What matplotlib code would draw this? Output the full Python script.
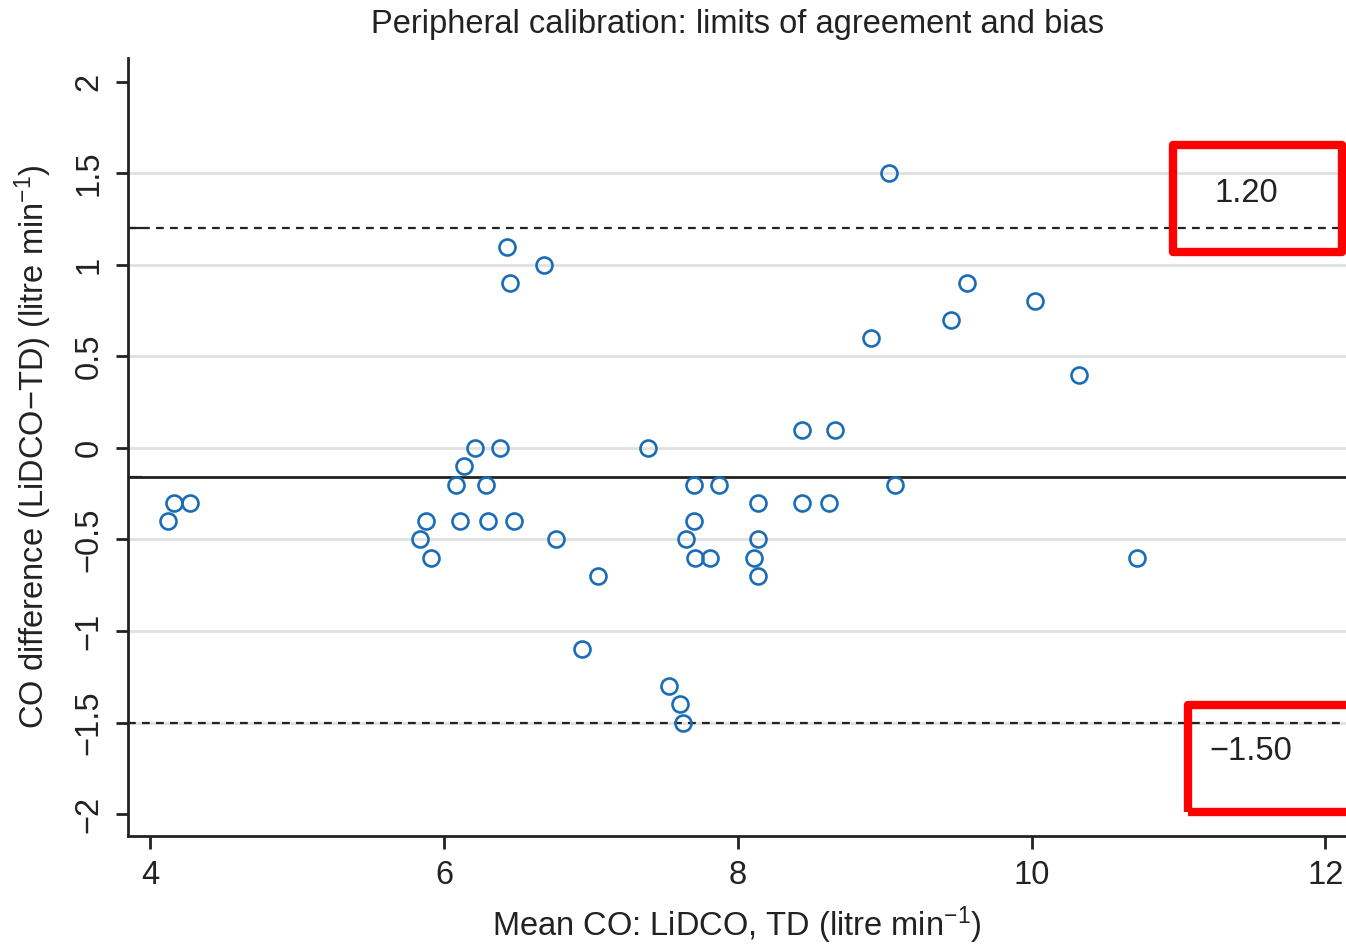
import matplotlib
matplotlib.use("Agg")
import matplotlib.pyplot as plt
from matplotlib.patches import Rectangle

plt.rcParams['font.family'] = ['Liberation Sans', 'DejaVu Sans']
plt.rcParams['mathtext.fontset'] = 'custom'
plt.rcParams['mathtext.rm'] = 'Liberation Sans'
plt.rcParams['mathtext.it'] = 'Liberation Sans'

mean_co = [4.12, 4.16, 4.27, 5.84, 5.88, 5.91, 6.08, 6.11, 6.14, 6.21, 6.29, 6.30,
           6.38, 6.48, 6.43, 6.45, 6.68, 6.76, 6.94, 7.05, 7.39, 7.53, 7.61, 7.63,
           7.65, 7.70, 7.70, 7.71, 7.81, 7.87, 8.11, 8.14, 8.14, 8.14, 8.44, 8.44,
           8.62, 8.66, 8.91, 9.03, 9.07, 9.45, 9.56, 10.02, 10.32, 10.72]
diff_co = [-0.4, -0.3, -0.3, -0.5, -0.4, -0.6, -0.2, -0.4, -0.1, 0.0, -0.2, -0.4,
           0.0, -0.4, 1.1, 0.9, 1.0, -0.5, -1.1, -0.7, 0.0, -1.3, -1.4, -1.5,
           -0.5, -0.4, -0.2, -0.6, -0.6, -0.2, -0.6, -0.3, -0.5, -0.7, 0.1, -0.3,
           -0.3, 0.1, 0.6, 1.5, -0.2, 0.7, 0.9, 0.8, 0.4, -0.6]
bias = -0.16
upper_loa = 1.20
lower_loa = -1.50
upper_label = "1.20"
lower_label = "\u22121.50"
x_ticks = [4, 6, 8, 10, 12]
y_ticks = [-2, -1.5, -1, -0.5, 0, 0.5, 1, 1.5, 2]
y_ticklabels = ["\u22122", "\u22121.5", "\u22121", "\u22120.5", "0", "0.5", "1", "1.5", "2"]
grid_levels = [-1.5, -1, -0.5, 0, 0.5, 1, 1.5]

FS = 23.5
fig = plt.figure(figsize=(13.46, 9.44), dpi=100)
ax = fig.add_axes([0.0951, 0.1144, 0.9049, 0.8242])

for g in grid_levels:
    ax.axhline(g, color='#e0e0e0', lw=2.0, zorder=0)
ax.axhline(upper_loa, color='#222222', lw=1.6, ls=(0, (3.5, 2.8)), zorder=1)
ax.axhline(lower_loa, color='#222222', lw=1.6, ls=(0, (3.5, 2.8)), zorder=1)
ax.axhline(bias, color='#222222', lw=2.0, zorder=1)

ax.plot(mean_co, diff_co, 'o', mfc='none', mec='#1a6db5', mew=1.9, ms=11.5, zorder=3)

ax.set_xlim(3.85, 12.14)
ax.set_ylim(-2.12, 2.13)
ax.set_xticks(x_ticks)
ax.set_yticks(y_ticks)
ax.set_yticklabels(y_ticklabels, rotation=90, va='center')
ax.tick_params(axis='both', labelsize=FS, length=9, width=2.0, colors='#222222', pad=8)

# inward ticks for bias and limits
ax.set_yticks([upper_loa, bias, lower_loa], minor=True)
ax.tick_params(axis='y', which='minor', direction='in', length=10, width=1.6, colors='#222222')

for s in ['top', 'right']:
    ax.spines[s].set_visible(False)
for s in ['left', 'bottom']:
    ax.spines[s].set_linewidth(2.0)
    ax.spines[s].set_color('#222222')

ax.set_xlabel("Mean CO: LiDCO, TD (litre min$^{-1}$)", fontsize=FS, color='#222222', labelpad=10)
ax.set_ylabel("CO difference (LiDCO\u2212TD) (litre min$^{-1}$)", fontsize=FS, color='#222222', labelpad=14)
ax.set_title("Peripheral calibration: limits of agreement and bias", fontsize=FS, color='#222222', pad=18)

ax.text(11.46, 1.39, upper_label, fontsize=FS, ha='center', va='center', color='#222222')
ax.text(11.49, -1.66, lower_label, fontsize=FS, ha='center', va='center', color='#222222')

ax.add_patch(Rectangle((10.96, 1.071), 12.115 - 10.96, 1.656 - 1.071, fill=False,
                       ec='#ff0000', lw=6, clip_on=False, zorder=5, joinstyle='round'))
ax.add_patch(Rectangle((11.066, -1.989), 1.3, -1.404 + 1.989, fill=False,
                       ec='#ff0000', lw=6, clip_on=False, zorder=5, joinstyle='round'))

fig.savefig("out.png", dpi=100)
